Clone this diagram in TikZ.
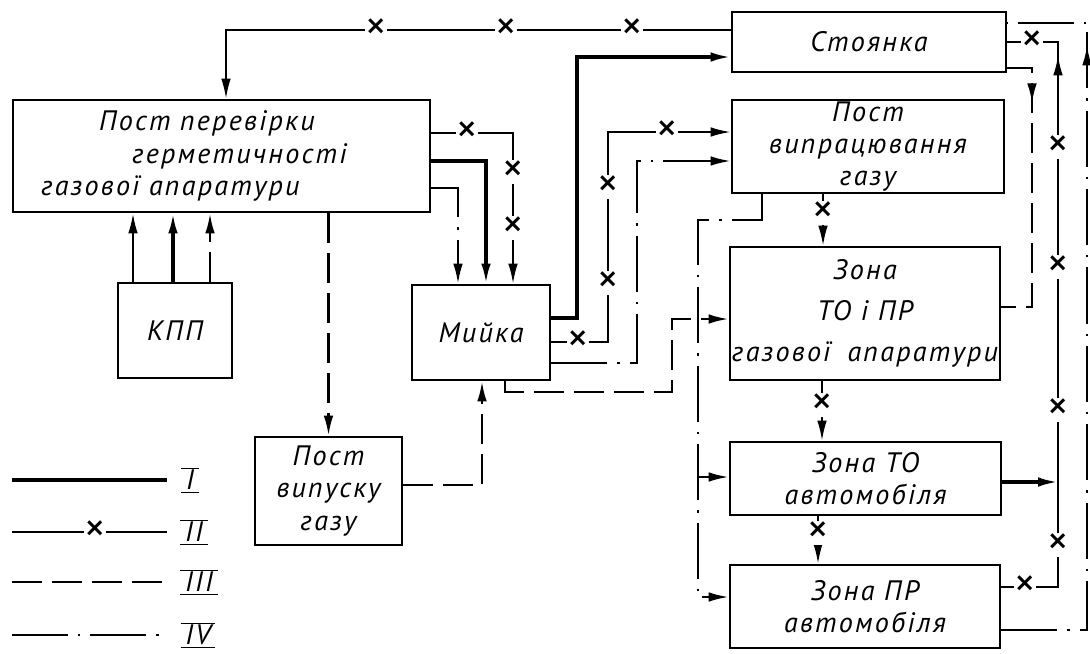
\documentclass[tikz,border=0pt]{standalone}
\usepackage{fontspec}
\setmainfont[LetterSpace=8]{PT Sans}
\usepackage{tikz}
\usetikzlibrary{arrows.meta,decorations.markings}
\newlength\pxu
\setlength\pxu{0.025cm}
\tikzset{every node/.style={font=\itshape\fontsize{20}{23}\selectfont}}

\begin{document}
\begin{tikzpicture}[
  x=0.025cm, y=-0.025cm,
  >={Latex[length=0.5cm,width=0.24cm]},
  box/.style={draw, line width=2pt, align=center, inner sep=0pt},
  flowI/.style={line width=2.2pt},
  flowII/.style={line width=1.3pt},
  flowIII/.style={line width=1.7pt, dash pattern=on 0.75cm off 0.25cm},
  flowIV/.style={line width=1.5pt, dash pattern=on 1.4cm off 0.25cm on 0.06cm off 0.25cm},
  xmark/.style={fill=white, inner sep=0.5pt, font=\fontsize{30}{30}\selectfont},
  midarrow/.style={postaction={decorate}, decoration={markings,
    mark=at position #1 with {\arrow{Latex[length=0.5cm,width=0.24cm]}}}}
]
\useasboundingbox (0,0) rectangle (1090,653);

\node[box, minimum width=274\pxu, minimum height=60\pxu] (stoyanka) at (869,42) {Стоянка};
\node[box, minimum width=272\pxu, minimum height=93\pxu] (vypr) at (868,146.5)
{Пост\\випрацювання\\газу};
\node[box, minimum width=270\pxu, minimum height=133\pxu] (zona) at (865,313.5)
{Зона\\[6pt]ТО і ПР\\[6pt]газової\hspace{0.6em}апаратури};
\node[box, minimum width=271\pxu, minimum height=73\pxu] (zonato) at (865.5,478.5)
{Зона ТО\\автомобіля};
\node[box, minimum width=270\pxu, minimum height=83\pxu] (zonapr) at (865,606.5)
{Зона ПР\\автомобіля};
\node[box, minimum width=417\pxu, minimum height=112\pxu, text width=385\pxu, align=left] (perev) at (221.5,156)
{\hspace*{70\pxu}Пост перевірки\\\hspace*{103\pxu}герметичності\\\hspace*{12\pxu}газової апаратури};
\node[box, minimum width=114\pxu, minimum height=95\pxu] (kpp) at (175,330.5) {КПП};
\node[box, minimum width=138\pxu, minimum height=95\pxu] (myika) at (481,332.5) {Мийка};
\node[box, minimum width=147\pxu, minimum height=108\pxu] (vypusk) at (328.5,491)
{Пост\\випуску\\газу};

% legend
\node (lgI) at (190,480) {$\overline{\underline{\hbox{\itshape\,I\,}}}$};
\node (lgII) at (194,532) {$\overline{\underline{\hbox{\itshape\,II\,}}}$};
\node (lgIII) at (199,582) {$\overline{\underline{\hbox{\itshape\,III\,}}}$};
\node (lgIV) at (198,635) {$\overline{\underline{\hbox{\itshape\,IV\,}}}$};
\draw[flowI] (12,480) -- (167,480);
\draw[flowII] (12,532) -- (95,532) node[xmark] {×} -- (167,532);
\draw[flowIII] (12,582) -- (167,582);
\draw[flowIV] (12,635) -- (167,635);

% I
\draw[flowI, ->] (myika.east |- 0,318) -| (577,57) -- (stoyanka.west |- 0,57);
\draw[flowI, ->] (perev.east |- 0,161) -| (myika.north -| 486,0);
\draw[flowI, ->] (kpp.north -| 173,0) -- (perev.south -| 173,0);
\coordinate (jII) at (1058,482);
\draw[flowI, ->] (zonato.east |- 0,482) -- (jII);

% II
\draw[flowII, ->] (stoyanka.west |- 0,30) -- (632,30) node[xmark] {×} -- (506,30) node[xmark] {×}
  -- (376,30) node[xmark] {×} -| (perev.north -| 226,0);
\draw[flowII, ->] (perev.east |- 0,133) -- (467,133) node[xmark] {×} -| (513,172) node[xmark] {×}
  -- (513,228) node[xmark] {×} -- (myika.north -| 513,0);
\draw[flowII, ->] (myika.east |- 0,342) -- (578,342) node[xmark] {×} -| (608,283) node[xmark] {×}
  -- (608,187) node[xmark] {×} |- (667,132) node[xmark] {×} -- (vypr.west |- 0,132);
\draw[flowII, ->] (vypr.south -| 823,0) -- (823,213) node[xmark] {×} -- (zona.north -| 823,0);
\draw[flowII, ->] (zona.south -| 822,0) -- (822,405) node[xmark] {×} -- (zonato.north -| 822,0);
\draw[flowII, ->] (zonato.south -| 818,0) -- (818,533) node[xmark] {×} -- (zonapr.north -| 818,0);
\draw[flowII, midarrow=-1.6cm] (zonapr.east |- 0,587) -- (1025,587) node[xmark] {×} -| (1058,545) node[xmark] {×}
  -- (1058,410) node[xmark] {×} -- (1058,267) node[xmark] {×} -- (1058,147) node[xmark] {×}
  |- (1032,42) node[xmark] {×} -- (stoyanka.east |- 0,42);

% III
\draw[flowIII, ->] (kpp.north -| 210,0) -- (perev.south -| 210,0);
\draw[flowIII, ->] (perev.south -| vypusk.north) -- (vypusk.north);
\draw[flowIII, ->] (vypusk.east |- 0,485) -| (myika.south -| 482,0);
\draw[flowIII, ->] (myika.south -| 505,0) |- (672,392) |- (zona.west |- 0,319);
\draw[flowIII, midarrow=1.5cm] (stoyanka.east |- 0,68) -| (1032,307) -- (zona.east |- 0,307);

% IV
\draw[flowIV, ->] (kpp.north -| 133,0) -- (perev.south -| 133,0);
\draw[flowIV, ->] (perev.east |- 0,188) -| (myika.north -| 458,0);
\draw[flowIV, ->] (myika.east |- 0,363) -| (637,161) -- (vypr.west |- 0,161);
\coordinate (jIV) at (698,477);
\draw[flowIV, ->] (vypr.south -| 762,0) |- (698,220) |- (zonapr.west |- 0,597);
\draw[flowIV, ->] (jIV) -- (zonato.west |- 0,477);
\draw[flowIV, midarrow=-2.55cm] (zonapr.east |- 0,630) -| (1087,23) -- (stoyanka.east |- 0,23);

\end{tikzpicture}
\end{document}
